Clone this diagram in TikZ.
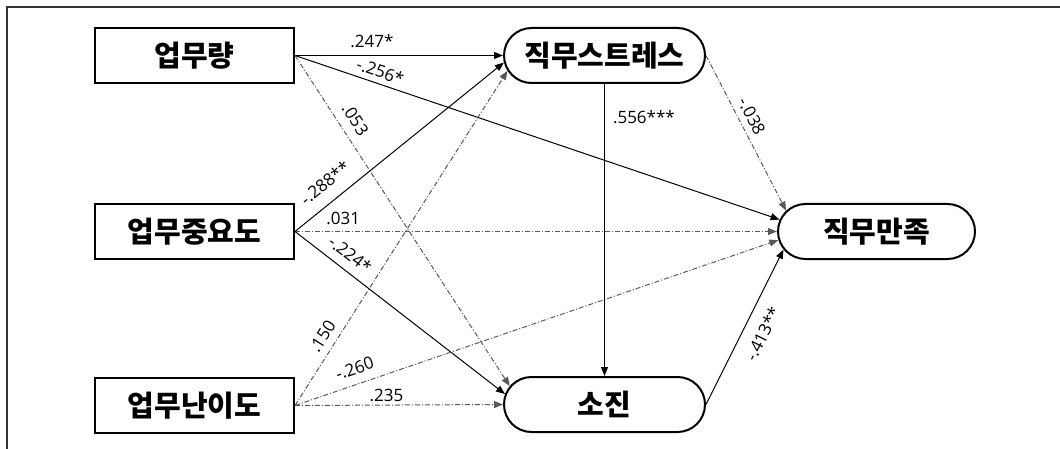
\documentclass[tikz,border=0pt]{standalone}
\usepackage{fontspec}
\usetikzlibrary{arrows.meta,shapes.misc}
\newfontfamily\kr{Noto Sans CJK KR}
\newfontfamily\num{Open Sans}
\begin{document}
\begin{tikzpicture}[x=1pt,y=-1pt,
  box/.style={draw, line width=2pt, minimum width=199pt, minimum height=55pt, inner sep=0pt, font=\kr\bfseries\fontsize{29}{31}\selectfont},
  oval/.style={rounded rectangle, draw, line width=2pt, minimum width=201pt, minimum height=55pt, inner sep=0pt, font=\kr\bfseries\fontsize{29}{31}\selectfont},
  sol/.style={line width=1pt, black, -{Triangle[length=9pt,width=7pt]}},
  dd/.style={line width=1pt, gray!70!black, dash pattern=on 5pt off 2pt on 1pt off 2pt, -{Triangle[length=9pt,width=7pt]}},
  lab/.style={font=\num\fontsize{17}{19}\selectfont, inner sep=0pt, text=black, sloped}
]
\useasboundingbox[fill=white] (0,0) rectangle (1060,449);
\draw[line width=2pt, black!80] (7,449) -- (7,7) -- (1060,7);

\node[box] (w) at (194.5,55.5) {업무량};
\node[box] (imp) at (194.5,231.5) {업무중요도};
\node[box] (dif) at (194.5,405.5) {업무난이도};
\node[oval] (st) at (604.5,55.5) {직무스트레스};
\node[oval] (bo) at (604.5,404.5) {소진};
\node[oval, minimum width=197pt] (sat) at (876.5,231.5) {직무만족};

% from 업무량
\draw[sol] (w.east) -- node[lab, pos=0.37, above=7pt] (l1) {.247*} (st.west);
\draw[sol] (w.east) -- node[lab, pos=0.168, above=5.2pt] (l2) {-.256*} (sat.173.2);
\draw[dd] (w.east) -- node[lab, pos=0.22, above=8.8pt] (l3) {.053} (bo.169.3);
% from 업무중요도
\draw[sol] (imp.east) -- node[lab, pos=0.2, above=12pt] (l4) {-.288**} (st.184.5);
\draw[dd] (imp.east) -- node[lab, pos=0.10, above=6pt] (l5) {.031} (sat.west);
\draw[sol] (imp.east) -- node[lab, pos=0.218, above=8.5pt] (l6) {-.224*} (bo.174.2);
% from 업무난이도
\draw[dd] (dif.east) -- node[lab, pos=0.184, above=7pt] (l7) {.150} (st.189.9);
\draw[dd] (dif.east) -- node[lab, pos=0.134, above=9pt] (l8) {-.260} (sat.185.7);
\draw[dd] (dif.east) -- node[lab, pos=0.44, above=3pt] (l9) {.235} (bo.west);
% mediators
\draw[sol] (st.south) -- node[font=\num\fontsize{17}{19}\selectfont, inner sep=0pt, pos=0.113, right=8pt] (l10) {.556***} (bo.north);
\draw[dd] (st.east) -- node[lab, pos=0.43, above=6pt] (l11) {-.038} (sat.167.5);
\draw[sol] (bo.east) -- node[lab, pos=0.51, below=12pt] (l12) {-.413**} (sat.191.2);
\end{tikzpicture}
\end{document}
